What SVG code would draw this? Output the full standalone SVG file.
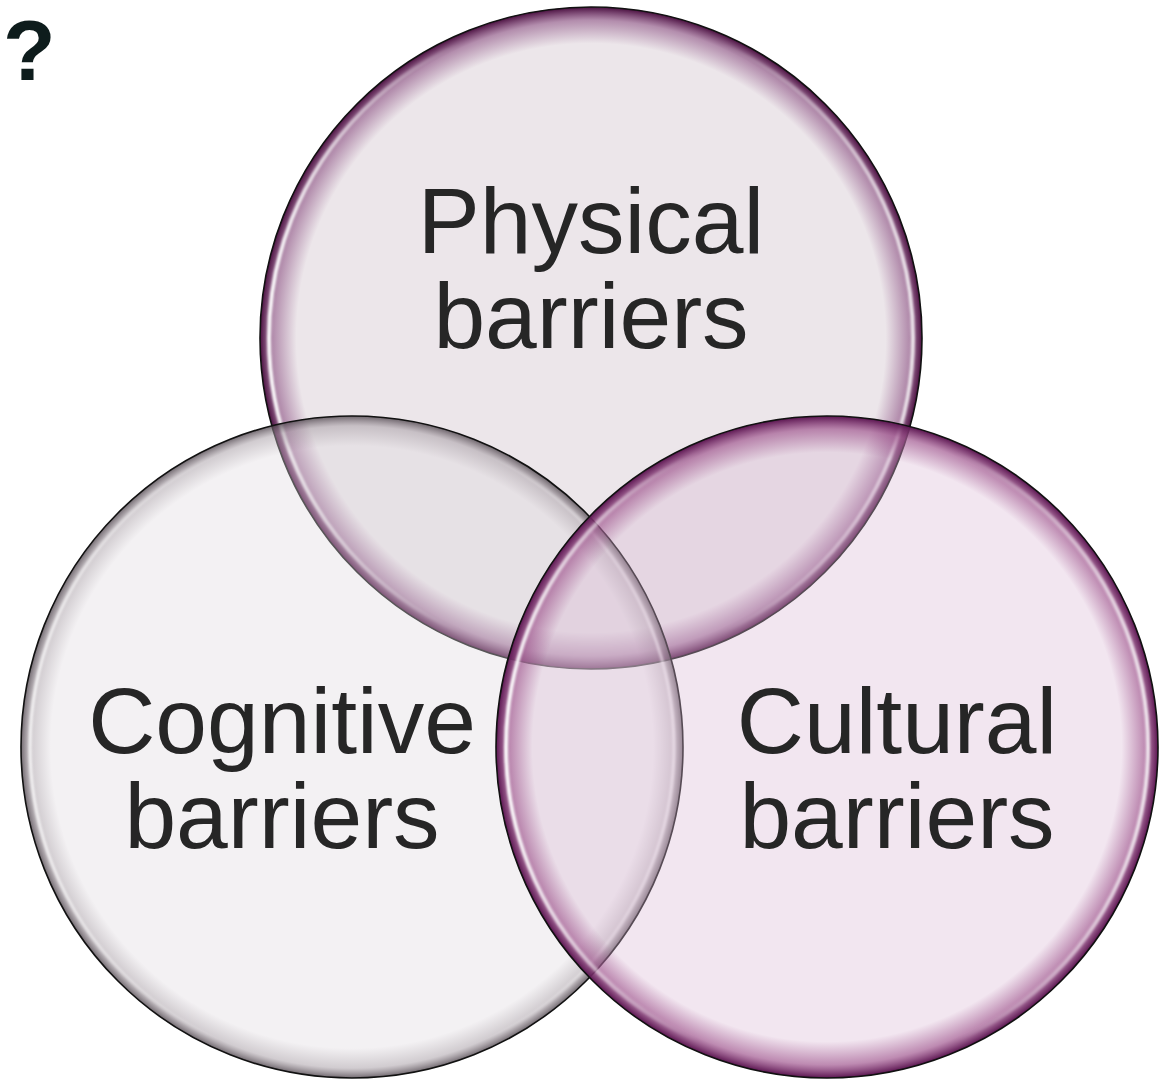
<svg xmlns="http://www.w3.org/2000/svg" width="1175" height="1079" viewBox="0 0 1175 1079">
<defs>
<style>
.lbl{font-family:"Liberation Sans",Arial,sans-serif;font-size:93px;fill:#262626;text-anchor:middle}
.edge{fill:none;stroke:#111;stroke-width:1.6}
.hl{fill:none;stroke:url(#hl);stroke-width:4;filter:url(#blur)}
.hlg{fill:none;stroke:url(#hl);stroke-width:3;filter:url(#blur);opacity:0.8}
</style>
<filter id="blur" x="-5%" y="-5%" width="110%" height="110%"><feGaussianBlur stdDeviation="1.3"/></filter>
<linearGradient id="hl" x1="0" y1="0" x2="1" y2="0">
<stop offset="0" stop-color="#fff" stop-opacity="0.95"/>
<stop offset="0.3" stop-color="#fff" stop-opacity="0"/>
<stop offset="0.7" stop-color="#fff" stop-opacity="0"/>
<stop offset="1" stop-color="#fff" stop-opacity="0.8"/>
</linearGradient>
<radialGradient id="rimTop">
<stop offset="0.89" stop-color="#7a3570" stop-opacity="0"/>
<stop offset="0.96" stop-color="#7a3570" stop-opacity="0.5"/>
<stop offset="1" stop-color="#4a1040" stop-opacity="1"/>
</radialGradient>
<radialGradient id="rimRight">
<stop offset="0.89" stop-color="#93407f" stop-opacity="0"/>
<stop offset="0.96" stop-color="#93407f" stop-opacity="0.55"/>
<stop offset="1" stop-color="#5a1550" stop-opacity="1"/>
</radialGradient>
<radialGradient id="rimLeft">
<stop offset="0.91" stop-color="#6a5c66" stop-opacity="0"/>
<stop offset="0.97" stop-color="#6a5c66" stop-opacity="0.25"/>
<stop offset="1" stop-color="#3a3038" stop-opacity="0.7"/>
</radialGradient>
</defs>
<rect width="1175" height="1079" fill="#fff"/>
<text x="3" y="80" font-family="Liberation Sans, Arial, sans-serif" font-size="86" font-weight="bold" fill="#0e1c1c">?</text>
<g id="connectors"/>
<g id="physical">
<circle cx="591" cy="338" r="331" fill="#c9b8c3" fill-opacity="0.35"/>
<circle cx="591" cy="338" r="331" fill="url(#rimTop)"/>
<circle cx="591" cy="338" r="322" class="hl"/>
<circle cx="591" cy="338" r="331" class="edge"/>
<text class="lbl" x="591" y="253">Physical</text>
<text class="lbl" x="591" y="348">barriers</text>
</g>
<g id="cognitive">
<circle cx="352" cy="747" r="331" fill="#ddd7dd" fill-opacity="0.35"/>
<circle cx="352" cy="747" r="331" fill="url(#rimLeft)"/>
<circle cx="352" cy="747" r="322" class="hlg"/>
<circle cx="352" cy="747" r="331" class="edge"/>
<text class="lbl" x="282" y="753">Cognitive</text>
<text class="lbl" x="282" y="848">barriers</text>
</g>
<g id="cultural">
<circle cx="827" cy="747" r="331" fill="#dab8d4" fill-opacity="0.35"/>
<circle cx="827" cy="747" r="331" fill="url(#rimRight)"/>
<circle cx="827" cy="747" r="321" class="hl"/>
<circle cx="827" cy="747" r="331" class="edge"/>
<text class="lbl" x="897" y="753">Cultural</text>
<text class="lbl" x="897" y="848">barriers</text>
</g>
</svg>
